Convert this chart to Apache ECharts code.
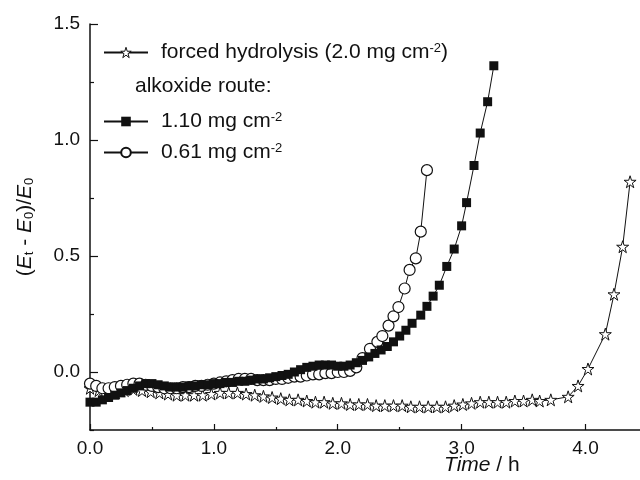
<!DOCTYPE html>
<html><head><meta charset="utf-8">
<script src="https://cdn.jsdelivr.net/npm/echarts@6/dist/echarts.min.js"></script>
<style>html,body{margin:0;padding:0;background:#fff}#c{width:640px;height:480px}</style>
</head><body><div id="c"></div>
<script>
// ---- data ----
var starT = [0.00,0.07,0.14,0.21,0.28,0.35,0.42,0.49,0.56,0.63,0.70,0.77,0.84,0.91,0.98,1.05,1.12,1.19,1.26,1.33,1.40,1.47,1.54,1.61,1.68,1.75,1.82,1.89,1.96,2.03,2.10,2.17,2.24,2.31,2.38,2.45,2.52,2.59,2.66,2.73,2.80,2.87,2.94,3.01,3.08,3.15,3.22,3.29,3.36,3.43,3.50,3.57,3.63,3.72,3.86,3.94,4.02,4.16,4.23,4.30,4.36];
var starV = [-0.07,-0.08,-0.09,-0.09,-0.08,-0.075,-0.08,-0.085,-0.09,-0.095,-0.10,-0.10,-0.10,-0.10,-0.095,-0.09,-0.09,-0.09,-0.095,-0.10,-0.105,-0.11,-0.115,-0.12,-0.12,-0.125,-0.13,-0.13,-0.135,-0.135,-0.14,-0.14,-0.14,-0.145,-0.145,-0.145,-0.145,-0.15,-0.15,-0.15,-0.15,-0.15,-0.145,-0.14,-0.135,-0.13,-0.13,-0.13,-0.13,-0.125,-0.125,-0.12,-0.125,-0.12,-0.107,-0.06,0.013,0.163,0.335,0.54,0.82];

var sqT = [0.00,0.05,0.10,0.15,0.20,0.25,0.30,0.35,0.40,0.45,0.50,0.55,0.60,0.65,0.70,0.75,0.80,0.85,0.90,0.95,1.00,1.05,1.10,1.15,1.20,1.25,1.30,1.35,1.40,1.45,1.50,1.55,1.60,1.65,1.70,1.75,1.80,1.85,1.90,1.95,2.00,2.05,2.10,2.15,2.20,2.25,2.30,2.35,2.40,2.45,2.50,2.55,2.60,2.67,2.72,2.77,2.82,2.88,2.94,3.00,3.04,3.10,3.15,3.21,3.26];
var sqV = [-0.13,-0.13,-0.12,-0.11,-0.10,-0.09,-0.08,-0.07,-0.06,-0.05,-0.05,-0.055,-0.06,-0.065,-0.065,-0.065,-0.06,-0.06,-0.055,-0.055,-0.05,-0.05,-0.045,-0.045,-0.04,-0.04,-0.035,-0.03,-0.03,-0.025,-0.02,-0.015,-0.01,0.00,0.01,0.02,0.025,0.03,0.03,0.03,0.025,0.025,0.03,0.04,0.05,0.065,0.08,0.095,0.11,0.13,0.155,0.18,0.21,0.245,0.283,0.327,0.374,0.455,0.53,0.63,0.73,0.89,1.03,1.165,1.32];

var ciT = [0.00,0.05,0.10,0.15,0.20,0.25,0.30,0.35,0.40,0.45,0.50,0.55,0.60,0.65,0.70,0.75,0.80,0.85,0.90,0.95,1.00,1.05,1.10,1.15,1.20,1.25,1.30,1.35,1.40,1.45,1.50,1.55,1.60,1.65,1.70,1.75,1.80,1.85,1.90,1.95,2.00,2.05,2.10,2.15,2.20,2.26,2.32,2.36,2.41,2.45,2.49,2.54,2.58,2.63,2.67,2.72];
var ciV = [-0.05,-0.06,-0.07,-0.07,-0.065,-0.06,-0.055,-0.05,-0.05,-0.055,-0.06,-0.065,-0.07,-0.07,-0.07,-0.065,-0.065,-0.06,-0.06,-0.055,-0.05,-0.045,-0.04,-0.035,-0.03,-0.03,-0.03,-0.035,-0.035,-0.035,-0.03,-0.03,-0.025,-0.02,-0.02,-0.015,-0.01,-0.01,-0.005,-0.005,0.0,0.0,0.005,0.02,0.06,0.10,0.13,0.155,0.20,0.24,0.28,0.36,0.44,0.49,0.605,0.87];

var xLabels = [0, 1, 2, 3, 4];
var xMinorTicks = [0.5, 1.5, 2.5, 3.5];
var yLabels = [0, 0.5, 1.0, 1.5];
var yMinorTicks = [-0.25, 0.25, 0.75, 1.25];

var nameStar = 'forced hydrolysis (2.0 mg cm-2)';
var nameSq = '1.10 mg cm-2';
var nameCi = '0.61 mg cm-2';

function zip(a, b) { return a.map(function (t, i) { return [t, b[i]]; }); }

var FONT = '"Liberation Sans", Arial, sans-serif';
var TXT = '#111';
var starPath = 'path://M50,2 L61,36 L97,36 L68,57 L79,92 L50,70 L21,92 L32,57 L3,36 L39,36 Z';

var legendRich = {
  sup: { fontSize: 13, fontFamily: FONT, color: TXT, verticalAlign: 'top', lineHeight: 13, padding: [0, 0, 11, 0] }
};
function legFmt(n) { return n.replace('cm-2', 'cm{sup|-2}'); }

var chart = echarts.init(document.getElementById('c'), null, { renderer: 'canvas' });
chart.setOption({
  animation: false,
  backgroundColor: '#fff',
  grid: { left: 90, right: 0, top: 24, bottom: 50, containLabel: false },
  xAxis: [{
    type: 'value', min: 0, max: 4.44, interval: 0.5,
    axisLine: { show: true, onZero: false, lineStyle: { color: '#111', width: 1.5 } },
    axisTick: { show: true, inside: true, length: 6, customValues: xLabels, lineStyle: { color: '#111', width: 1.2 } },
    axisLabel: { customValues: xLabels, formatter: function (v) { return v.toFixed(1); }, fontSize: 19, fontFamily: FONT, color: TXT, margin: 9 },
    splitLine: { show: false }
  }, {
    type: 'value', min: 0, max: 4.44, position: 'bottom',
    axisLine: { show: false, onZero: false },
    axisTick: { show: true, inside: true, length: 3, customValues: xMinorTicks, lineStyle: { color: '#111', width: 1.2 } },
    axisLabel: { show: false },
    splitLine: { show: false }
  }],
  yAxis: [{
    type: 'value', min: -0.25, max: 1.5, interval: 0.25,
    axisLine: { show: true, onZero: false, lineStyle: { color: '#111', width: 1.5 } },
    axisTick: { show: true, inside: true, length: 8, customValues: yLabels, lineStyle: { color: '#111', width: 1.2 } },
    axisLabel: { customValues: yLabels, formatter: function (v) { return v.toFixed(1); }, fontSize: 19, fontFamily: FONT, color: TXT, margin: 10 },
    splitLine: { show: false },
    name: '({i|E}{sb|t} - {i|E}{sb|0})/{i|E}{sb|0}',
    nameLocation: 'middle', nameRotate: 90, nameGap: 54,
    nameTextStyle: {
      fontSize: 21, fontFamily: FONT, color: TXT,
      rich: {
        i: { fontSize: 21, fontStyle: 'italic', fontFamily: FONT, color: TXT },
        sb: { fontSize: 13, fontFamily: FONT, color: TXT, verticalAlign: 'bottom', padding: [9, 0, 0, 0] }
      }
    }
  }, {
    type: 'value', min: -0.25, max: 1.5, position: 'left',
    axisLine: { show: false, onZero: false },
    axisTick: { show: true, inside: true, length: 4, customValues: yMinorTicks, lineStyle: { color: '#111', width: 1.2 } },
    axisLabel: { show: false },
    splitLine: { show: false }
  }],
  legend: [{
    data: [nameStar], left: 98, top: 37, orient: 'vertical',
    itemWidth: 44, itemHeight: 13, itemGap: 8,
    itemStyle: { color: '#fff', borderColor: '#111', borderWidth: 1 },
    formatter: legFmt,
    textStyle: { fontSize: 21, fontFamily: FONT, color: TXT, rich: legendRich, padding: [0, 0, 0, 8] }
  }, {
    data: [nameSq, nameCi], left: 98, top: 106, orient: 'vertical',
    itemWidth: 44, itemHeight: 12, itemGap: 7,
    formatter: legFmt,
    textStyle: { fontSize: 21, fontFamily: FONT, color: TXT, rich: legendRich, padding: [0, 0, 0, 8] }
  }],
  graphic: [{
    type: 'text', left: 135, top: 76,
    style: { text: 'alkoxide route:', fontSize: 21, fontFamily: FONT, fill: TXT }
  }, {
    type: 'text', left: 444, top: 455,
    style: {
      text: '{i|Time} / h',
      rich: { i: { fontSize: 21, fontStyle: 'italic', fontFamily: FONT, fill: TXT } },
      fontSize: 21, fontFamily: FONT, fill: TXT
    }
  }],
  series: [{
    name: nameStar, type: 'line', data: zip(starT, starV),
    symbol: starPath, symbolSize: 12,
    lineStyle: { color: '#111', width: 1 },
    itemStyle: { color: '#fff', borderColor: '#111', borderWidth: 1 },
    z: 2
  }, {
    name: nameCi, type: 'line', data: zip(ciT, ciV),
    symbol: 'circle', symbolSize: 11,
    lineStyle: { color: '#111', width: 1 },
    itemStyle: { color: '#fff', borderColor: '#111', borderWidth: 1.2 },
    z: 3
  }, {
    name: nameSq, type: 'line', data: zip(sqT, sqV),
    symbol: 'rect', symbolSize: 9,
    lineStyle: { color: '#111', width: 1 },
    itemStyle: { color: '#111', borderColor: '#111', borderWidth: 0 },
    z: 4
  }]
});
</script>
</body></html>
